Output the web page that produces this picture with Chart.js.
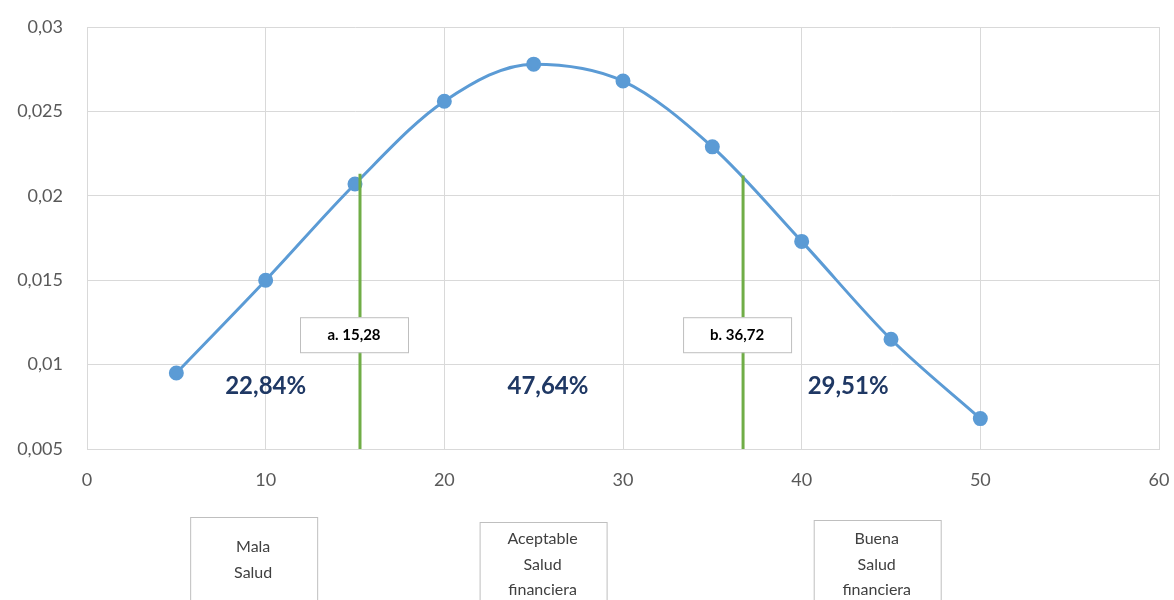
<!DOCTYPE html>
<html>
<head>
<meta charset="utf-8">
<script src="https://cdn.jsdelivr.net/npm/chart.js@4/dist/chart.umd.min.js"></script>
<style>
  html, body { margin: 0; padding: 0; background: #fff; }
  #wrap { width: 1174px; height: 600px; position: relative; }
</style>
</head>
<body>
<div id="wrap"><canvas id="chart" width="1174" height="600"></canvas></div>
<script>
// normal curve sampled every 5 points
const xValues = [5, 10, 15, 20, 25, 30, 35, 40, 45, 50];
const density = [0.0095, 0.0150, 0.0207, 0.0256, 0.0278, 0.0268, 0.0229, 0.0173, 0.0115, 0.0068];

// cut points and where each marker line stops
const cutValues = [15.28, 36.72];
const cutTops = [0.0213, 0.0212];
const cutLabels = ['a. 15,28', 'b. 36,72'];

// share of the population in each zone
const shareLabels = ['22,84%', '47,64%', '29,51%'];
const shareX = [10, 25.8, 42.6];
const shareY = 0.0087;

// category boxes under the axis
const zoneLines = [['Mala', 'Salud'], ['Aceptable', 'Salud', 'financiera'], ['Buena', 'Salud', 'financiera']];
const zoneX = [9.3, 25.5, 44.2];

const FONT = 'Lato, "Open Sans", sans-serif';

function fmt(v) {
  return Number(v.toFixed(3)).toString().replace('.', ',');
}

const cutSets = cutValues.map((c, i) => ({
  data: [{ x: c, y: 0.005 }, { x: c, y: cutTops[i] }],
  borderColor: '#70ad47',
  borderWidth: 3,
  pointRadius: 0,
  tension: 0,
}));

const annotations = {
  id: 'annotations',
  afterDatasetsDraw(chart) {
    const { ctx, scales: { x, y } } = chart;
    ctx.save();

    // callout boxes on the cut lines
    ctx.font = 'bold 15px ' + FONT;
    ctx.textAlign = 'center';
    ctx.textBaseline = 'middle';
    cutValues.forEach((c, i) => {
      const cx = x.getPixelForValue(c) - 6;
      const cy = y.getPixelForValue(0.0118);
      ctx.fillStyle = '#fff';
      ctx.fillRect(cx - 54, cy - 17, 108, 35);
      ctx.strokeStyle = '#bfbfbf';
      ctx.lineWidth = 1;
      ctx.strokeRect(cx - 54 + 0.5, cy - 17 + 0.5, 108, 35);
      ctx.fillStyle = '#000';
      ctx.fillText(cutLabels[i], cx, cy + 1);
    });

    // zone percentages
    ctx.font = 'bold 24px ' + FONT;
    ctx.fillStyle = '#1f3864';
    shareLabels.forEach((s, i) => {
      ctx.fillText(s, x.getPixelForValue(shareX[i]), y.getPixelForValue(shareY));
    });

    // zone names below the axis
    ctx.font = '16px ' + FONT;
    const tops = [517, 522, 520];
    zoneLines.forEach((lines, i) => {
      const cx = x.getPixelForValue(zoneX[i]);
      ctx.fillStyle = '#fff';
      ctx.fillRect(cx - 63, tops[i], 127, 100);
      ctx.strokeStyle = '#bfbfbf';
      ctx.strokeRect(cx - 63 + 0.5, tops[i] + 0.5, 127, 100);
      ctx.fillStyle = '#404040';
      const start = lines.length === 2 ? 547 : 539;
      lines.forEach((t, k) => ctx.fillText(t, cx, start + k * 25.5));
    });
    ctx.restore();
  }
};

new Chart(document.getElementById('chart').getContext('2d'), {
  type: 'line',
  data: {
    datasets: [
      ...cutSets,
      {
        data: xValues.map((v, i) => ({ x: v, y: density[i] })),
        borderColor: '#5b9bd5',
        backgroundColor: '#5b9bd5',
        borderWidth: 3,
        pointRadius: 6,
        pointHoverRadius: 6,
        tension: 0.4,
        cubicInterpolationMode: 'monotone',
      },
    ]
  },
  options: {
    responsive: false,
    animation: false,
    events: [],
    layout: { padding: { left: 0, right: 15, top: 27, bottom: 0 } },
    plugins: { legend: { display: false }, tooltip: { enabled: false } },
    scales: {
      x: {
        type: 'linear',
        min: 0, max: 60,
        ticks: { stepSize: 10, padding: 20, color: '#595959', font: { family: FONT, size: 18 } },
        grid: { color: '#d9d9d9', drawTicks: false },
        border: { color: '#d9d9d9' },
        afterFit(s) { s.height = 151; s.paddingLeft = 0; s.paddingRight = 0; },
      },
      y: {
        min: 0.005, max: 0.03,
        ticks: { stepSize: 0.005, padding: 24, color: '#595959', font: { family: FONT, size: 18 }, callback: fmt },
        grid: { color: '#d9d9d9', drawTicks: false },
        border: { color: '#d9d9d9' },
        afterFit(s) { s.width = 87; s.paddingTop = 0; s.paddingBottom = 0; },
      }
    }
  },
  plugins: [annotations]
});
</script>
</body>
</html>
